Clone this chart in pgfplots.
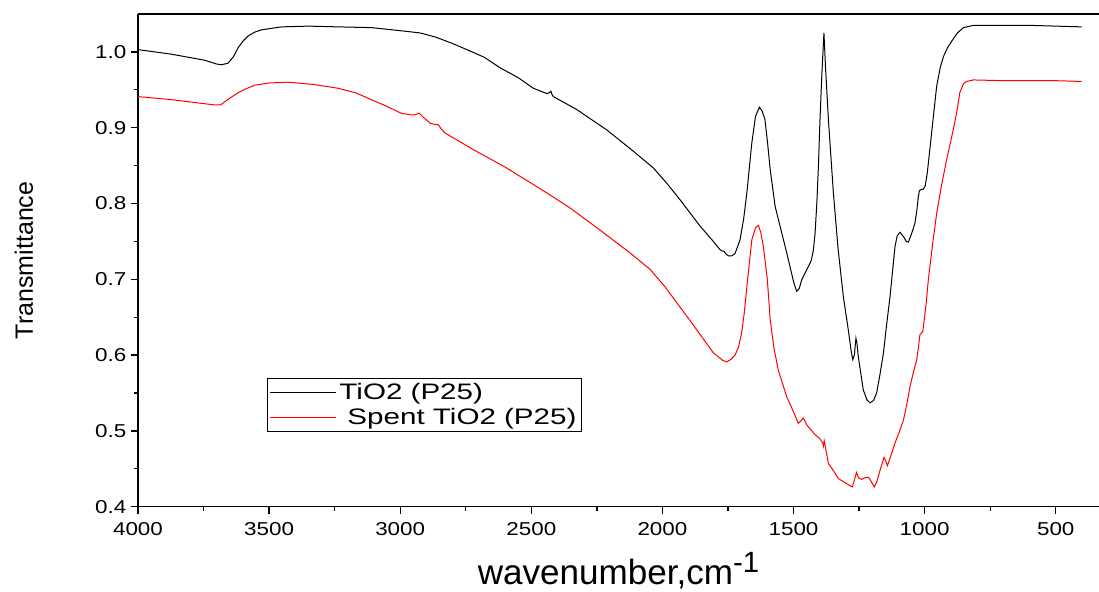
\documentclass[border=0pt]{standalone}
\usepackage{fontspec}
\setmainfont{Liberation Sans}
\newfontfamily\tickfont[FakeStretch=1.2]{Liberation Sans}
\newfontfamily\legfont[FakeStretch=1.32]{Liberation Sans}
\usepackage{pgfplots}
\pgfplotsset{compat=1.18}
\begin{document}
\begin{tikzpicture}
\begin{axis}[
  name=ax,
  scale only axis,
  width=720.75pt, height=369.5pt,
  x dir=reverse,
  xmin=335, xmax=4000,
  ymin=0.4, ymax=1.05,
  axis x line*=box, axis y line*=left,
  xtick={4000,3500,3000,2500,2000,1500,1000,500},
  ytick={0.4,0.5,0.6,0.7,0.8,0.9,1.0},
  minor x tick num=1, minor y tick num=1,
  xtick pos=bottom, ytick pos=left,
  tick align=outside,
  major tick length=5.25pt, minor tick length=3pt,
  axis line style={line width=1pt},
  every tick/.style={line width=1pt, black},
  /pgf/number format/assume math mode=true,
  xticklabel style={/pgf/number format/set thousands separator={}, yshift=-3pt},
  yticklabel style={/pgf/number format/.cd, fixed, fixed zerofill, precision=1},
  ticklabel style={font=\tickfont\fontsize{14}{14}\selectfont},
  xlabel={wavenumber,cm\raisebox{9pt}{\fontsize{22}{22}\selectfont -1}},
  xlabel style={font=\fontsize{26.3}{28}\selectfont, at={(axis description cs:0.5,-0.1589)}, anchor=base},
  ylabel={Transmittance},
  ylabel style={font=\fontsize{18.75}{20}\selectfont, at={(axis description cs:-0.1093,0.5)}, anchor=base},
  legend style={at={(0.134,0.261)}, anchor=north west, draw=black, line width=0.6pt,
    inner xsep=2pt, inner ysep=1.5pt, row sep=1.5pt,
    font=\legfont\fontsize{16.8}{17}\selectfont,
    cells={anchor=west}},
  legend image code/.code={\draw[#1] (0pt,0pt) -- (49.5pt,0pt);},
  legend cell align=left,
]
\addplot[black, line width=0.75pt] table {
4000 1.003
3873 0.997
3746 0.989
3700 0.984
3682 0.983
3657 0.985
3635 0.994
3619 1.005
3600 1.014
3580 1.021
3555 1.026
3530 1.029
3453 1.033
3350 1.034
3237 1.033
3110 1.032
3000 1.028
2924 1.025
2870 1.020
2861 1.019
2800 1.011
2746 1.003
2680 0.993
2619 0.979
2550 0.966
2492 0.952
2441 0.945
2432 0.946
2425 0.948
2420 0.943
2416 0.941
2327 0.924
2212 0.897
2111 0.869
2035 0.847
1984 0.827
1933 0.805
1900 0.790
1856 0.770
1806 0.750
1780 0.739
1770 0.737
1765 0.737
1757 0.733
1749 0.731
1735 0.731
1723 0.734
1704 0.752
1690 0.780
1678 0.814
1659 0.880
1645 0.915
1630 0.927
1620 0.922
1609 0.911
1599 0.880
1589 0.845
1570 0.796
1526 0.735
1500 0.697
1488 0.684
1478 0.688
1469 0.699
1443 0.717
1432 0.725
1424 0.739
1418 0.760
1411 0.801
1405 0.850
1399 0.911
1392 0.970
1384 1.025
1378 0.980
1367 0.911
1348 0.814
1330 0.740
1310 0.677
1291 0.633
1280 0.605
1274 0.594
1268 0.600
1262 0.622
1258 0.615
1253 0.598
1243 0.575
1234 0.554
1220 0.541
1208 0.537
1195 0.540
1183 0.550
1170 0.575
1157 0.603
1145 0.640
1132 0.677
1113 0.743
1105 0.757
1094 0.762
1080 0.756
1070 0.750
1062 0.749
1050 0.760
1037 0.774
1030 0.790
1024 0.809
1020 0.817
1015 0.818
1005 0.819
998 0.823
990 0.840
979 0.875
965 0.920
954 0.955
940 0.980
928 0.994
912 1.006
897 1.014
875 1.025
852 1.032
814 1.035
700 1.035
600 1.035
500 1.034
401 1.033
};
\addlegendentry{TiO2 (P25)}
\addplot[red, line width=0.75pt] table {
4000 0.941
3873 0.937
3708 0.930
3685 0.930
3670 0.934
3645 0.940
3619 0.946
3590 0.951
3555 0.956
3500 0.959
3428 0.960
3330 0.957
3237 0.952
3170 0.946
3110 0.937
3050 0.928
2996 0.919
2960 0.917
2945 0.917
2927 0.919
2910 0.913
2886 0.906
2865 0.904
2855 0.904
2845 0.899
2829 0.893
2721 0.871
2600 0.848
2441 0.814
2352 0.794
2250 0.768
2124 0.735
2047 0.713
1990 0.690
1945 0.669
1900 0.648
1856 0.627
1806 0.603
1770 0.593
1755 0.591
1740 0.594
1723 0.600
1710 0.610
1698 0.629
1688 0.655
1678 0.690
1659 0.752
1645 0.768
1634 0.771
1625 0.762
1615 0.743
1600 0.700
1589 0.647
1575 0.610
1558 0.580
1526 0.545
1500 0.525
1482 0.510
1472 0.513
1463 0.517
1455 0.512
1450 0.508
1430 0.500
1418 0.495
1400 0.490
1393 0.486
1388 0.484
1386 0.480
1383 0.487
1378 0.478
1367 0.457
1345 0.446
1329 0.437
1310 0.433
1291 0.429
1276 0.426
1268 0.435
1260 0.445
1252 0.438
1240 0.436
1228 0.438
1215 0.439
1205 0.434
1192 0.426
1182 0.433
1170 0.448
1155 0.465
1148 0.460
1142 0.454
1128 0.468
1113 0.484
1095 0.500
1081 0.514
1068 0.535
1056 0.558
1043 0.577
1030 0.594
1022 0.615
1018 0.627
1007 0.631
995 0.665
986 0.699
970 0.745
954 0.787
935 0.825
916 0.858
891 0.897
875 0.925
866 0.946
852 0.958
840 0.961
814 0.963
700 0.962
600 0.962
500 0.962
401 0.961
};
\addlegendentry{\hspace{6pt}Spent TiO2 (P25)}
\end{axis}
\pgfresetboundingbox
\path[use as bounding box] ([shift={(-103.5pt,-64pt)}]ax.south west) rectangle ([shift={(0pt,10.5pt)}]ax.north east);
\end{tikzpicture}
\end{document}
